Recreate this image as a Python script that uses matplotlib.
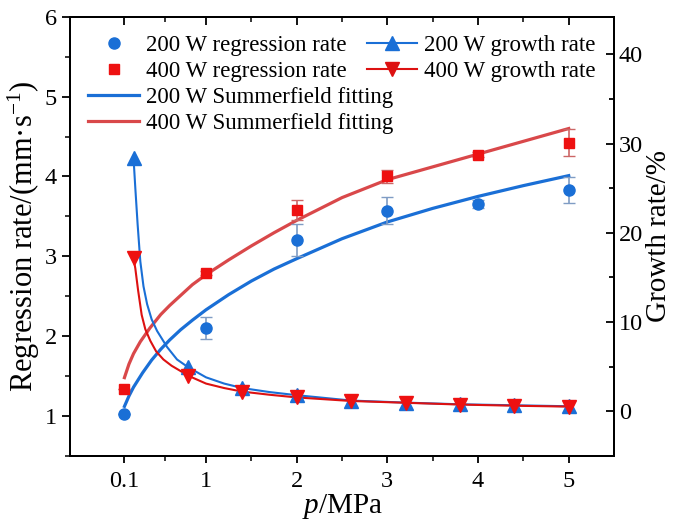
import matplotlib

matplotlib.use("Agg")
import matplotlib.pyplot as plt
from matplotlib.lines import Line2D
from matplotlib.ticker import FixedLocator, MultipleLocator

plt.rcParams["font.family"] = ["Liberation Serif", "DejaVu Serif"]
plt.rcParams["mathtext.fontset"] = "custom"
plt.rcParams["mathtext.rm"] = "Liberation Serif"
plt.rcParams["mathtext.it"] = "Liberation Serif:italic"

# regression rate measurements (mm/s)
pressure = [0.1, 1, 2, 3, 4, 5]
rate_200 = [1.02, 2.10, 3.20, 3.57, 3.65, 3.83]
err_200 = [0.0, 0.14, 0.20, 0.17, 0.05, 0.16]
rate_400 = [1.34, 2.79, 3.58, 4.00, 4.27, 4.42]
err_400 = [0.0, 0.03, 0.12, 0.08, 0.03, 0.17]

# Summerfield fitting curves
fit_p_200 = [0.1, 0.15, 0.2, 0.3, 0.4, 0.5, 0.6, 0.72, 0.85, 1.0, 1.25, 1.5, 1.75,
             2.0, 2.5, 3.0, 3.5, 4.0, 4.5, 5.0]
fit_200 = [1.12, 1.25, 1.36, 1.54, 1.70, 1.835, 1.953, 2.08, 2.20, 2.33, 2.52, 2.69, 2.84,
           2.97, 3.22, 3.43, 3.60, 3.75, 3.885, 4.01]
fit_p_400 = [0.1, 0.15, 0.2, 0.275, 0.38, 0.5, 0.6, 0.72, 0.85, 1.0, 1.25, 1.5, 1.75,
             2.0, 2.5, 3.0, 3.5, 4.0, 4.5, 5.0]
fit_400 = [1.48, 1.65, 1.78, 1.93, 2.10, 2.27, 2.385, 2.51, 2.645, 2.77, 2.955, 3.13, 3.295,
           3.45, 3.735, 3.96, 4.12, 4.28, 4.44, 4.60]

# growth rate (%)
growth_p = [0.2, 0.8, 1.4, 2.0, 2.6, 3.2, 3.8, 4.4, 5.0]
growth_200 = [28.4, 4.95, 2.6, 1.8, 1.2, 0.97, 0.78, 0.67, 0.56]
growth_400 = [17.2, 4.0, 2.2, 1.55, 1.15, 0.95, 0.75, 0.62, 0.52]
# points along the smoothed growth lines
curve_p_200 = [0.2, 0.22, 0.245, 0.275, 0.31, 0.35, 0.4, 0.46, 0.57, 0.68, 0.8, 1.0, 1.2,
               1.4, 1.7, 2.0, 2.6, 3.2, 3.8, 4.4, 5.0]
curve_200 = [28.4, 25.0, 21.0, 16.8, 14.0, 12.0, 10.3, 9.0, 7.2, 5.8, 4.95, 3.8, 3.1,
             2.6, 2.15, 1.8, 1.2, 0.97, 0.78, 0.67, 0.56]
curve_p_400 = [0.2, 0.22, 0.25, 0.29, 0.33, 0.385, 0.45, 0.53, 0.62, 0.72, 0.8, 1.0, 1.2,
               1.4, 1.7, 2.0, 2.6, 3.2, 3.8, 4.4, 5.0]
curve_400 = [17.2, 16.0, 13.6, 10.8, 9.2, 7.9, 6.7, 5.8, 5.1, 4.5, 4.0, 3.1, 2.6,
             2.2, 1.85, 1.55, 1.15, 0.95, 0.75, 0.62, 0.52]

x_ticks = [0.1, 1, 2, 3, 4, 5]
x_labels = ["0.1", "1", "2", "3", "4", "5"]
x_minor = [0.55, 1.5, 2.5, 3.5, 4.5]

blue = "#1a6fd6"
red = "#ee1111"
red_fit = "#d9484a"
red_line = "#dd1111"

fig = plt.figure(figsize=(6.8, 5.24), dpi=100)
ax = fig.add_axes([0.103, 0.130, 0.800, 0.838])
ax2 = ax.twinx()

ax.plot(fit_p_200, fit_200, color=blue, lw=2.3, zorder=2)
ax.plot(fit_p_400, fit_400, color=red_fit, lw=2.3, zorder=2)
ax.errorbar(pressure, rate_200, yerr=err_200, fmt="o", color=blue, ms=8, ecolor="#7f9cc4",
            elinewidth=1.2, capsize=4, zorder=3)
ax.errorbar(pressure, rate_400, yerr=err_400, fmt="s", color=red, ms=7.5, ecolor="#c66",
            elinewidth=1.2, capsize=4, zorder=3)

ax2.plot(curve_p_200, curve_200, color=blue, lw=1.5)
ax2.plot(curve_p_400, curve_400, color=red_line, lw=1.5)
ax2.plot(growth_p, growth_200, ls="none", marker="^", color=blue, ms=9.5)
ax2.plot(growth_p, growth_400, ls="none", marker="v", color=red, ms=9.5)

ax.set_xlim(-0.5, 5.5)
ax.set_ylim(0.5, 6.0)
ax2.set_ylim(-5, 44.2)

ax.xaxis.set_major_locator(FixedLocator(x_ticks))
ax.xaxis.set_minor_locator(FixedLocator(x_minor))
ax.set_xticklabels(x_labels)
ax.yaxis.set_major_locator(MultipleLocator(1))
ax.yaxis.set_minor_locator(MultipleLocator(0.5))
ax2.yaxis.set_major_locator(FixedLocator([0, 10, 20, 30, 40]))
ax2.yaxis.set_minor_locator(FixedLocator([-5, 5, 15, 25, 35]))

ax.tick_params(axis="both", which="both", direction="out", labelsize=17.5, top=False)
ax.tick_params(axis="x", pad=6)
ax.tick_params(which="major", length=6, width=1.3)
ax.tick_params(which="minor", length=3.5, width=1.1)
ax.tick_params(axis="x", which="major", length=5)

# top ticks point inward, drawn on the twin axes
ax2.xaxis.set_visible(True)
ax2.tick_params(axis="x", which="both", direction="in", bottom=False, labelbottom=False,
                top=True, labeltop=False, width=1.3)
ax2.tick_params(axis="x", which="major", length=6)
ax2.tick_params(axis="x", which="minor", length=3.5, width=1.1)
ax2.tick_params(axis="y", which="both", direction="in", labelsize=17.5, width=1.3)
ax2.tick_params(axis="y", which="major", length=6)
ax2.tick_params(axis="y", which="minor", length=3.5)

for a in (ax, ax2):
    for s in a.spines.values():
        s.set_linewidth(1.4)

ax.set_xlabel("$p$/MPa", fontsize=21, labelpad=0)
ax.set_ylabel("Regression rate/(mm·s$^{-1}$)", fontsize=22, labelpad=2)
ax2.set_ylabel("Growth rate/%", fontsize=21, labelpad=2)

leg_kw = dict(frameon=False, fontsize=16.5, handlelength=2.2, handletextpad=0.3,
              labelspacing=0.22, borderaxespad=0.4)
left_handles = [
    Line2D([], [], ls="none", marker="o", color=blue, ms=8),
    Line2D([], [], ls="none", marker="s", color=red, ms=7.5),
    Line2D([], [], color=blue, lw=2.3),
    Line2D([], [], color=red_fit, lw=2.3),
]
left_labels = ["200 W regression rate", "400 W regression rate",
               "200 W Summerfield fitting", "400 W Summerfield fitting"]
ax.legend(left_handles, left_labels, loc="upper left", **leg_kw)

right_handles = [
    Line2D([], [], color=blue, lw=1.5, marker="^", ms=9.5),
    Line2D([], [], color=red_line, lw=1.5, marker="v", ms=9.5),
]
right_labels = ["200 W growth rate", "400 W growth rate"]
ax2.legend(right_handles, right_labels, loc="upper right", **leg_kw)

fig.savefig("out.png", dpi=100)
